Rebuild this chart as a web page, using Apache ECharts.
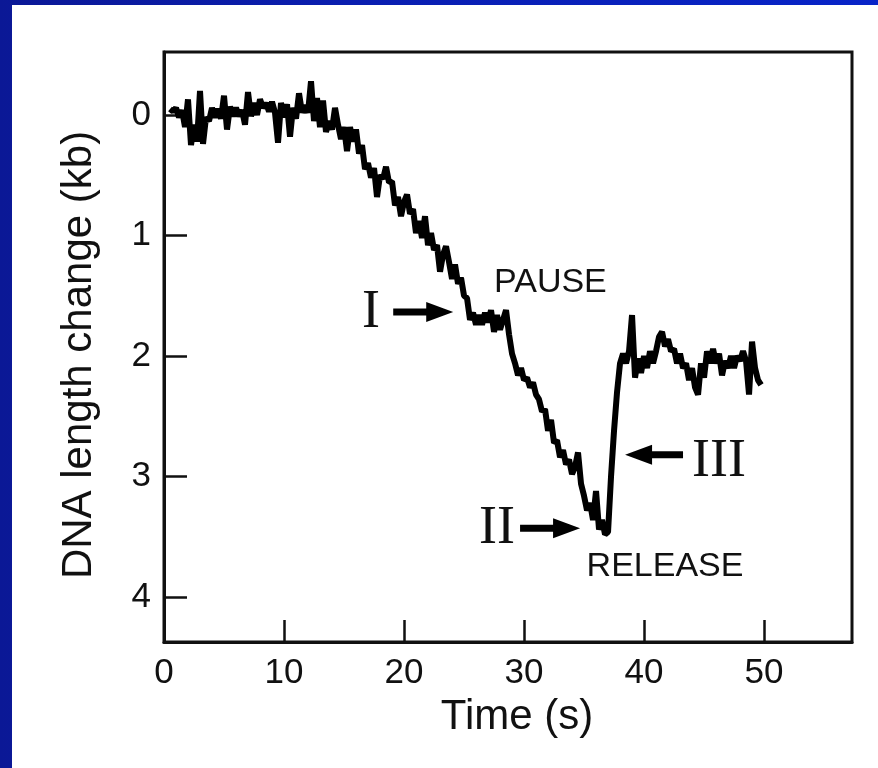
<!DOCTYPE html>
<html>
<head>
<meta charset="utf-8">
<script src="https://cdn.jsdelivr.net/npm/echarts@6/dist/echarts.min.js"></script>
<style>
  html, body { margin: 0; padding: 0; }
  body { width: 878px; height: 768px; overflow: hidden;
         background: linear-gradient(90deg, #0b1896 0%, #0a1eb0 40%, #0824c8 100%); position: relative; }
  #chart { position: absolute; left: 12px; top: 5px; width: 866px; height: 763px; background: #ffffff; }
</style>
</head>
<body>
<div id="chart"></div>
<script>
// Recording sampled every 0.25 s starting at 0.5 s
const timeStart = 0.5;
const timeStep = 0.25;

// DNA length change (kb), one value per sample
const lengthKb = [
  -0.05, -0.03,
  -0.06, 0.02, -0.04, 0.10,
  -0.13, 0.25, 0.08, 0.22,
  -0.20, 0.24, 0.02, 0.05,
  -0.06, 0.02, -0.05, 0.03,
  -0.16, 0.12, -0.07, 0.01,
  -0.06, 0.01, -0.04, 0.08,
  -0.19, 0.01, -0.10, 0.00,
  -0.13, -0.06, -0.10, -0.03,
  -0.11, -0.02, 0.23, -0.10,
  0.02, -0.09, 0.18, -0.06,
  0.03, -0.18, -0.02, -0.08,
  -0.02, -0.28, 0.05, -0.14,
  0.10, -0.12, 0.14, 0.05,
  0.12, -0.06, 0.08, 0.20,
  0.10, 0.30, 0.10, 0.22,
  0.12, 0.32, 0.25, 0.45,
  0.40, 0.52, 0.44, 0.68,
  0.50, 0.53, 0.43, 0.56,
  0.55, 0.75, 0.68, 0.84,
  0.72, 0.66, 0.82, 0.78,
  0.98, 0.88, 1.02, 0.84,
  1.08, 0.98, 1.12, 1.08,
  1.30, 1.16, 1.09, 1.22,
  1.36, 1.24, 1.40, 1.35,
  1.50, 1.52, 1.70, 1.64,
  1.74, 1.66, 1.74, 1.64,
  1.72, 1.62, 1.80, 1.66,
  1.78, 1.70, 1.62, 1.82,
  1.98, 2.06, 2.16, 2.10,
  2.20, 2.18, 2.26, 2.22,
  2.32, 2.36, 2.46, 2.44,
  2.62, 2.53, 2.72, 2.70,
  2.84, 2.78, 2.90, 2.86,
  2.98, 2.92, 2.80, 3.06,
  3.16, 3.28, 3.22, 3.36,
  3.12, 3.44, 3.36, 3.48,
  3.46, 3.00, 2.62, 2.30,
  2.06, 1.98, 2.06, 1.96,
  1.66, 2.18, 2.02, 2.14,
  2.00, 2.10, 1.96, 2.06,
  1.96, 1.84, 1.80, 1.92,
  1.86, 1.96, 1.94, 2.06,
  1.98, 2.10, 2.06, 2.20,
  2.10, 2.26, 2.32, 2.06,
  2.18, 1.96, 2.06, 1.94,
  2.06, 1.98, 2.16, 2.04,
  2.10, 2.00, 2.10, 2.00,
  2.04, 1.96, 2.04, 2.32,
  1.88, 2.10, 2.20, 2.24
];

const timeTicks = [0, 10, 20, 30, 40, 50];
const lengthTicks = [0, 1, 2, 3, 4];

// Event labels (time s, length kb at label centre)
const phaseLabels = [
  { text: 'PAUSE',   t: 32.2,  v: 1.39, serif: false },
  { text: 'RELEASE', t: 41.75, v: 3.75, serif: false },
  { text: 'I',       t: 17.25, v: 1.64, serif: true },
  { text: 'II',      t: 27.75, v: 3.43, serif: true },
  { text: 'III',     t: 46.25, v: 2.88, serif: true }
];
// Arrows: tail time, tip time, length level
const phaseArrows = [
  { from: 19.1,  to: 24.1,  v: 1.635 },
  { from: 29.67, to: 34.67, v: 3.43 },
  { from: 43.25, to: 38.42, v: 2.82 }
];

const sans = '"Liberation Sans", Arial, Helvetica, sans-serif';
const serif = '"Liberation Serif", "Times New Roman", serif';
const ink = '#111111';

const chart = echarts.init(document.getElementById('chart'), null, { renderer: 'canvas' });

const trace = lengthKb.map((v, i) => [timeStart + i * timeStep, v]);

chart.setOption({
  animation: false,
  grid: {
    left: 152, top: 47, right: 26, bottom: 126,
    show: true, borderColor: ink, borderWidth: 3, backgroundColor: 'transparent'
  },
  xAxis: {
    type: 'value', min: 0, max: 57.33,
    name: 'Time (s)', nameLocation: 'middle', nameGap: 54,
    nameTextStyle: { fontFamily: sans, fontSize: 42, color: ink, padding: [0, 0, 0, 18] },
    axisLine: { show: true, onZero: false, lineStyle: { color: ink, width: 3 } },
    axisTick: { show: true, inside: true, length: 22, customValues: timeTicks, lineStyle: { color: ink, width: 2.5 } },
    axisLabel: { customValues: timeTicks, fontFamily: sans, fontSize: 35, color: ink, margin: 14 },
    splitLine: { show: false }
  },
  yAxis: {
    type: 'value', inverse: true, min: -0.523, max: 4.373,
    name: 'DNA length change (kb)', nameLocation: 'middle', nameGap: 64,
    nameTextStyle: { fontFamily: sans, fontSize: 42, color: ink, padding: [0, 16, 0, 0] },
    axisLine: { show: true, onZero: false, lineStyle: { color: ink, width: 3 } },
    axisTick: { show: true, inside: true, length: 23, customValues: lengthTicks, lineStyle: { color: ink, width: 2.5 } },
    axisLabel: { customValues: lengthTicks, fontFamily: sans, fontSize: 35, color: ink, margin: 13 },
    splitLine: { show: false }
  },
  series: [{
    type: 'line',
    data: trace,
    showSymbol: false,
    lineStyle: { color: '#000000', width: 6, join: 'bevel' }
  }]
});

// Annotation graphics placed from data coordinates
function toPx(t, v) { return chart.convertToPixel({ gridIndex: 0 }, [t, v]); }

const elements = [];
phaseLabels.forEach(l => {
  const p = toPx(l.t, l.v);
  elements.push({
    type: 'text', x: p[0], y: p[1],
    style: {
      text: l.text, fill: ink, align: 'center', verticalAlign: 'middle',
      font: l.serif ? ('54px ' + serif) : ('34px ' + sans)
    }
  });
});
phaseArrows.forEach(a => {
  const tail = toPx(a.from, a.v);
  const tip = toPx(a.to, a.v);
  const d = tip[0] > tail[0] ? 1 : -1;
  const headLen = 27, headHalf = 10, shaftHalf = 3.5;
  const y = tip[1];
  const neck = tip[0] - d * headLen;
  elements.push({
    type: 'polygon',
    shape: {
      points: [
        [tail[0], y - shaftHalf], [neck, y - shaftHalf], [neck, y - headHalf],
        [tip[0], y], [neck, y + headHalf], [neck, y + shaftHalf], [tail[0], y + shaftHalf]
      ]
    },
    style: { fill: '#000000' }
  });
});
chart.setOption({ graphic: { elements: elements } });
</script>
</body>
</html>
